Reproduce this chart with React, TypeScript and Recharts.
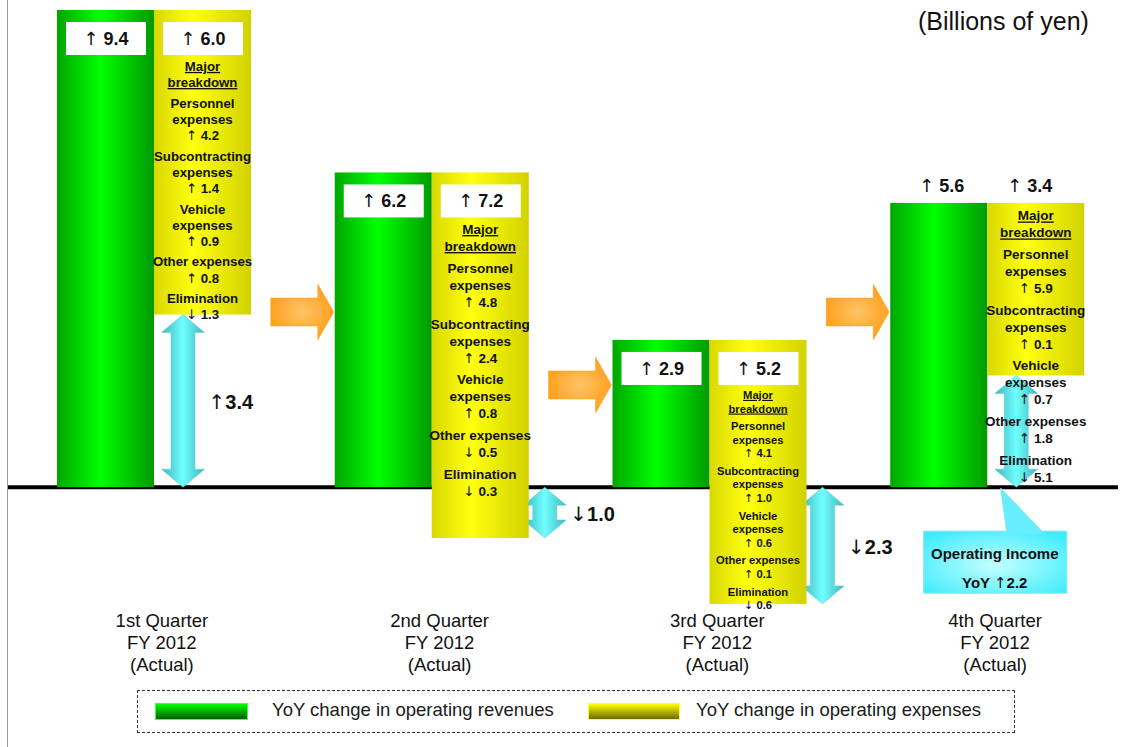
import React from 'react';
import { BarChart, Bar, XAxis, YAxis, CartesianGrid, Legend } from 'recharts';

// values in billions of yen, YoY change per quarter
const quarters = ['1st Quarter', '2nd Quarter', '3rd Quarter', '4th Quarter'];
const fiscalYear = 'FY 2012';
const periodType = '(Actual)';
const revenueChange = [9.4, 6.2, 2.9, 5.6];
const expenseChange = [6.0, 7.2, 5.2, 3.4];
const operatingIncomeChange = [3.4, -1.0, -2.3, 2.2];

const breakdownNames = [['Personnel', 'expenses'], ['Subcontracting', 'expenses'], ['Vehicle', 'expenses'], ['Other expenses'], ['Elimination']];
const personnelExp = [4.2, 4.8, 4.1, 5.9];
const subcontractingExp = [1.4, 2.4, 1.0, 0.1];
const vehicleExp = [0.9, 0.8, 0.6, 0.7];
const otherExp = [0.8, -0.5, 0.1, 1.8];
const eliminationExp = [-1.3, -0.3, -0.6, -5.1];

const data = quarters.map((q, i) => ({
  quarter: q,
  revenue: [0, revenueChange[i]],
  expenses: [revenueChange[i] - expenseChange[i], revenueChange[i]],
  income: [0, operatingIncomeChange[i]],
  rev: revenueChange[i],
  exp: expenseChange[i],
  op: operatingIncomeChange[i],
  breakdown: [personnelExp[i], subcontractingExp[i], vehicleExp[i], otherExp[i], eliminationExp[i]],
}));

const FONT = '"Liberation Sans", Arial, Helvetica, sans-serif';
const ARROW_FONT = '"DejaVu Sans", sans-serif';
const LAST = quarters.length - 1;

// arrow glyph drawn in DejaVu so it is as tall as the digits
const ArrowNum = ({ v, space = true }: any) => (
  <>
    <tspan fontFamily={ARROW_FONT} fontWeight="normal">{v >= 0 ? '↑' : '↓'}</tspan>
    <tspan>{(space ? ' ' : '') + Math.abs(v).toFixed(1)}</tspan>
  </>
);

const ValueBox = ({ x, y, v }: any) => (
  <g>
    <rect x={x} y={y} width={80} height={33} fill="#fff" />
    <text x={x + 40} y={y + 23} textAnchor="middle" fontSize={18} fontWeight="bold" fill="#111" fontFamily={FONT}>
      <ArrowNum v={v} />
    </text>
  </g>
);

const FlowArrow = ({ tipX, cy }: any) => {
  const l = tipX - 63;
  const hx = tipX - 16;
  return (
    <polygon
      points={`${l},${cy - 14} ${hx},${cy - 14} ${hx},${cy - 28} ${tipX},${cy} ${hx},${cy + 28} ${hx},${cy + 14} ${l},${cy + 14}`}
      fill="url(#gradOrange)"
      stroke="#ffa020"
      strokeWidth={0.5}
    />
  );
};

const RevenueShape = (props: any) => {
  const { x, y, width, height, index, payload } = props;
  const top = Math.min(y, y + height);
  const h = Math.abs(height);
  return (
    <g>
      <rect x={x} y={top} width={width} height={h} fill="url(#gradGreen)" />
      {index > 0 && <FlowArrow tipX={x - 1} cy={Math.max(312, top + 45)} />}
      {index === LAST ? (
        <text x={x + width / 2 + 3} y={top - 11} textAnchor="middle" fontSize={18} fontWeight="bold" fill="#111" fontFamily={FONT}>
          <ArrowNum v={payload.rev} />
        </text>
      ) : (
        <ValueBox x={x + 9} y={top + 12} v={payload.rev} />
      )}
    </g>
  );
};

const ExpenseShape = (props: any) => {
  const { x, y, width, height, index, payload } = props;
  const top = Math.min(y, y + height);
  const h = Math.abs(height);
  const bottom = top + h;
  const low = payload.rev - payload.exp;
  const baseY = bottom + low * (h / payload.exp);
  const last = index === LAST;

  const lines: { t?: string; v?: number; u?: boolean; g: number }[] = [
    { t: 'Major', u: true, g: 0 },
    { t: 'breakdown', u: true, g: 0 },
  ];
  breakdownNames.forEach((name, k) => {
    name.forEach((n) => lines.push({ t: n, g: k + 1 }));
    lines.push({ v: payload.breakdown[k], g: k + 1 });
  });

  const regionTop = last ? top + 4 : top + 48;
  const regionBottom = last ? baseY - 2 : bottom + 8;
  const gapR = 0.28;
  const u = Math.min(17, (regionBottom - regionTop) / (lines.length + gapR * breakdownNames.length));
  const fs = Math.min(13.5, u * 0.82);
  const cx = x + width / 2;

  return (
    <g>
      <rect x={x} y={top} width={width} height={h} fill="url(#gradYellow)" />
      {last ? (
        <text x={cx - 6} y={top - 11} textAnchor="middle" fontSize={18} fontWeight="bold" fill="#111" fontFamily={FONT}>
          <ArrowNum v={payload.exp} />
        </text>
      ) : (
        <ValueBox x={x + 9} y={top + 12} v={payload.exp} />
      )}
      {lines.map((ln, j) => (
        <text
          key={j}
          x={cx}
          y={regionTop + u * (j + 0.8) + gapR * u * ln.g}
          textAnchor="middle"
          fontSize={fs}
          fontWeight="bold"
          fill="#111"
          fontFamily={FONT}
          textDecoration={ln.u ? 'underline' : undefined}
        >
          {ln.v !== undefined ? <ArrowNum v={ln.v} /> : ln.t}
        </text>
      ))}
    </g>
  );
};

const IncomeShape = (props: any) => {
  const { x, y, width, height, index, payload } = props;
  const T = Math.min(y, y + height);
  const B = T + Math.abs(height);
  const c = x + width / 2;
  const w = 43;
  const L = payload.op >= 0 ? c + 8 : c + 92;
  const m = L + w / 2;
  const hh = Math.min(18, (B - T) * 0.42);
  const pts = [
    [m, T], [L + w, T + hh], [m + 12, T + hh], [m + 12, B - hh], [L + w, B - hh],
    [m, B], [L, B - hh], [m - 12, B - hh], [m - 12, T + hh], [L, T + hh],
  ].map((p) => p.join(',')).join(' ');
  return (
    <g>
      <polygon points={pts} fill="url(#gradCyan)" stroke="#5cc8cc" strokeWidth={0.5} />
      {index === LAST ? (
        <g>
          <rect x={L - 71} y={B + 44} width={143} height={62} fill="url(#gradCallout)" stroke="#7ee6ee" strokeWidth={1} />
          <polygon points={`${L + 6},${B + 1} ${L + 12},${B + 45} ${L + 48},${B + 45}`} fill="#66eeff" stroke="#7ee6ee" strokeWidth={1} />
          <rect x={L + 13} y={B + 43} width={34} height={4} fill="#66eeff" />
          <text x={L} y={B + 72} textAnchor="middle" fontSize={15} fontWeight="bold" fill="#111" fontFamily={FONT}>Operating Income</text>
          <text x={L} y={B + 101} textAnchor="middle" fontSize={15} fontWeight="bold" fill="#111" fontFamily={FONT}>
            {'YoY  '}
            <ArrowNum v={payload.op} space={false} />
          </text>
        </g>
      ) : (
        <text x={L + w + 4} y={(T + B) / 2 + 8} fontSize={20} fontWeight="bold" fill="#111" fontFamily={FONT}>
          <ArrowNum v={payload.op} space={false} />
        </text>
      )}
    </g>
  );
};

const QuarterTick = ({ x, y, payload }: any) => (
  <text x={x + 8} y={y} textAnchor="middle" fontSize={18.5} fill="#111" fontFamily={FONT}>
    <tspan x={x + 8} dy={-20}>{payload.value}</tspan>
    <tspan x={x + 8} dy={22}>{fiscalYear}</tspan>
    <tspan x={x + 8} dy={22}>{periodType}</tspan>
  </text>
);

const BaseLine = (p: any) => (
  <line key={p.key} x1={p.x1 - 7} x2={p.x2 - 8} y1={p.y1} y2={p.y2} stroke="#000" strokeWidth={4} />
);

const legendText: React.CSSProperties = { position: 'absolute', top: 8, fontSize: 18.5, color: '#1a1a1a', fontFamily: FONT, whiteSpace: 'nowrap' };

const LegendBox = () => (
  <div style={{ height: 60, position: 'relative' }}>
    <div style={{ position: 'absolute', left: 137, top: 5, width: 878, height: 43, border: '1px dashed #333', boxSizing: 'border-box' }}>
      <div style={{ position: 'absolute', left: 17, top: 12, width: 93, height: 17, boxSizing: 'border-box', border: '1px solid #44ff44', background: 'linear-gradient(#00ff00, #005c00)' }} />
      <div style={{ ...legendText, left: 134 }}>YoY change in operating revenues</div>
      <div style={{ position: 'absolute', left: 450, top: 12, width: 92, height: 17, boxSizing: 'border-box', border: '1px solid #ffff33', background: 'linear-gradient(#ffff00, #6a6a00)' }} />
      <div style={{ ...legendText, left: 558 }}>YoY change in operating expenses</div>
    </div>
  </div>
);

export default function App() {
  return (
    <div style={{ position: 'absolute', left: 0, top: 0, width: 1126, height: 747, background: '#fff' }}>
      <div style={{ position: 'absolute', left: 7, top: 0, width: 1, height: 747, background: '#9a9a9a' }} />
      <div style={{ position: 'absolute', left: 918, top: 7, fontSize: 25, fontFamily: FONT, color: '#111' }}>(Billions of yen)</div>
      <BarChart width={1126} height={745} data={data} margin={{ top: 10, right: 0, bottom: 0, left: 15 }} barGap={0} barCategoryGap={0}>
        <defs>
          <linearGradient id="gradGreen" x1="0" x2="1" y1="0" y2="0">
            <stop offset="0%" stopColor="#00a600" />
            <stop offset="45%" stopColor="#00ff00" />
            <stop offset="100%" stopColor="#009a00" />
          </linearGradient>
          <linearGradient id="gradYellow" x1="0" x2="1" y1="0" y2="0">
            <stop offset="0%" stopColor="#d8d800" />
            <stop offset="40%" stopColor="#ffff10" />
            <stop offset="100%" stopColor="#d2d200" />
          </linearGradient>
          <linearGradient id="gradCyan" x1="0" x2="1" y1="0" y2="0">
            <stop offset="0%" stopColor="#3fb5bd" />
            <stop offset="50%" stopColor="#70ffff" />
            <stop offset="100%" stopColor="#3fb5bd" />
          </linearGradient>
          <radialGradient id="gradOrange" cx="50%" cy="50%" r="60%">
            <stop offset="0%" stopColor="#ffc466" />
            <stop offset="100%" stopColor="#ff9a12" />
          </radialGradient>
          <radialGradient id="gradCallout" cx="50%" cy="55%" r="65%">
            <stop offset="0%" stopColor="#c4ffff" />
            <stop offset="100%" stopColor="#40ecfc" />
          </radialGradient>
        </defs>
        <CartesianGrid xAxisId="main" vertical={false} horizontalValues={[0]} horizontal={BaseLine} />
        <XAxis xAxisId="main" dataKey="quarter" height={76} axisLine={false} tickLine={false} interval={0} tick={<QuarterTick />} />
        <XAxis xAxisId="arrow" dataKey="quarter" hide />
        <YAxis hide domain={[-2.4, 9.4]} allowDataOverflow />
        <Bar xAxisId="arrow" dataKey="income" barSize={43} shape={IncomeShape} isAnimationActive={false} />
        <Bar xAxisId="main" dataKey="revenue" barSize={97} shape={RevenueShape} isAnimationActive={false} />
        <Bar xAxisId="main" dataKey="expenses" barSize={97} shape={ExpenseShape} isAnimationActive={false} />
        <Legend verticalAlign="bottom" content={<LegendBox />} wrapperStyle={{ left: 0, width: 1126, height: 60 }} />
      </BarChart>
    </div>
  );
}
